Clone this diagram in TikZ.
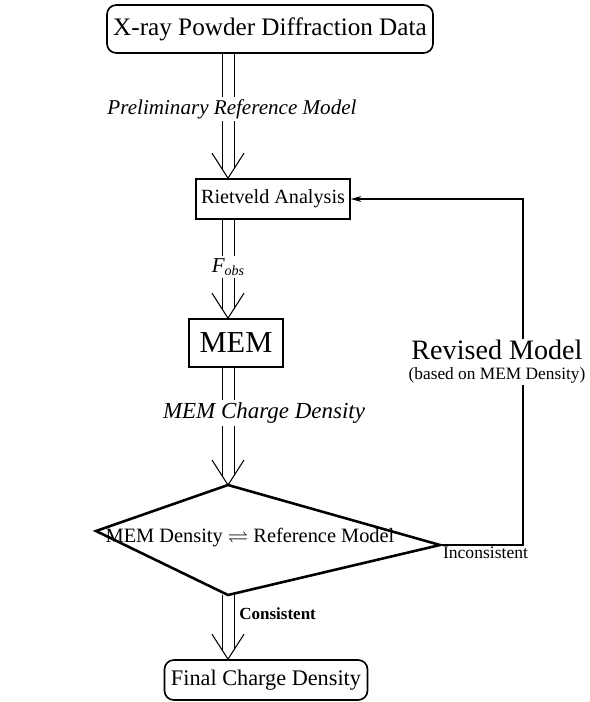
\documentclass[tikz,border=0pt]{standalone}
\usepackage{fontspec}
\setmainfont{Liberation Serif}
\usepackage{amssymb}
\usetikzlibrary{arrows.meta,positioning,calc}
\newcommand{\sz}[1]{\fontsize{#1}{#1}\selectfont}
\tikzset{
  box/.style={draw,line width=1.4pt,align=center,inner sep=0pt},
  boxr/.style={box,rounded corners=8pt},
  lbl/.style={fill=white,inner sep=2pt,font=\sz{18}\itshape},
  note/.style={inner sep=1pt,font=\sz{14.5}},
  rail/.style={line width=0.8pt},
  vee/.style={line width=0.9pt,line join=miter},
  fbk/.style={line width=0.9pt},
}

\begin{document}
\begin{tikzpicture}[x=0.03cm, y=-0.03cm]
  \useasboundingbox (0,0) rectangle (589,702);
  % the spine the double arrows run down, and the return line
  \coordinate (ax) at (228,0);
  \coordinate (fb) at (523,0);
  \node[boxr, minimum width=9.78cm, minimum height=1.44cm, font=\sz{21.5}]
       (xrd) at (270,29) {X-ray Powder Diffraction Data};
  \node[box, minimum width=4.62cm, minimum height=1.2cm, font=\sz{17.2}]
       (rv) at (273,199) {Rietveld Analysis};
  \node[box, minimum width=2.82cm, minimum height=1.44cm, font=\sz{26}]
       (mem) at (236,343) {MEM};
  % the comparison: a lopsided diamond
  \coordinate (dtop) at (228,485);
  \coordinate (dright) at (440,545);
  \coordinate (dbot) at (228,595);
  \coordinate (dleft) at (96,531);
  \draw[line width=2.2pt, line join=miter] (dtop) -- (dright) -- (dbot)
       -- (dleft) -- cycle;
  \node[inner sep=0pt, font=\sz{17.4}] (cmp) at (250,538)
       {MEM Density $\rightleftharpoons$ Reference Model};
  \node[boxr, minimum width=6.09cm, minimum height=1.2cm, font=\sz{19}]
       (fcd) at (266,680) {Final Charge Density};
  % the main flow: two rails and an open head
  \foreach \s in {-6,6} {
    \draw[rail] ($(xrd.south -| ax)+(\s,0)$) -- ($(rv.north -| ax)+(\s,-9)$);
    \draw[rail] ($(rv.south -| ax)+(\s,0)$) -- ($(mem.north -| ax)+(\s,-9)$);
    \draw[rail] ($(mem.south -| ax)+(\s,0)$) -- ($(dtop)+(\s,-9)$);
    \draw[rail] ($(dbot)+(\s,0)$) -- ($(fcd.north -| ax)+(\s,-9)$);
  }
  \draw[vee] ($(rv.north -| ax)+(-16,-25)$) -- (rv.north -| ax) -- ++(16,-25);
  \draw[vee] ($(mem.north -| ax)+(-16,-25)$) -- (mem.north -| ax) -- ++(16,-25);
  \draw[vee] ($(dtop)+(-16,-25)$) -- (dtop) -- ++(16,-25);
  \draw[vee] ($(fcd.north -| ax)+(-16,-25)$) -- (fcd.north -| ax) -- ++(16,-25);
  \node[lbl] (prm) at (232,109) {Preliminary Reference Model};
  \node[lbl] (fobs) at (228,267)
       {\textit{F}\raisebox{-3pt}{\sz{12}\textit{obs}}};
  \node[lbl, font=\sz{19.6}\itshape] (mcd) at (264,413) {MEM Charge Density};
  \node[note, anchor=west, font=\sz{14.5}\bfseries] (cons) at (238,614)
       {Consistent};
  % the way back round
  \node[inner sep=1pt, font=\sz{24}] (rev) at (497,350) {Revised Model};
  \node[note, font=\sz{14.8}, below=4pt of rev] (revb)
       {(based on MEM Density)};
  \draw[fbk] (dright) -- node[note, below, xshift=0.12cm, font=\sz{15}]
       {Inconsistent} (dright -| fb) -- (revb.south -| fb);
  \draw[fbk, -{Stealth[length=9pt,width=5pt]}] (rev.north -| fb)
       |- (rv.east);
\end{tikzpicture}
\end{document}
